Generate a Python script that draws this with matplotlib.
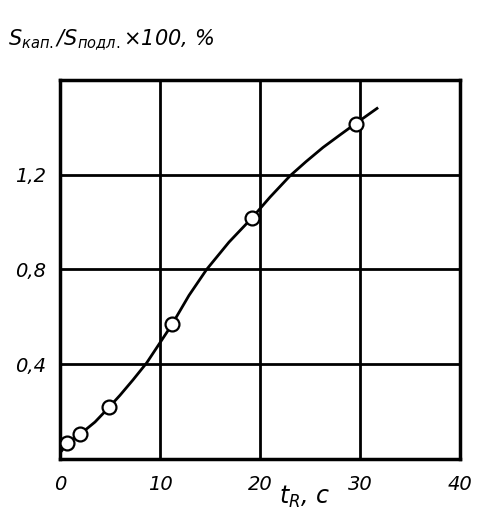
import matplotlib.pyplot as plt
import numpy as np

# measured points (t_R, s ; S_cap/S_subst x 100, %)
t_pts = [0.7, 2.0, 4.9, 11.2, 19.2, 29.6]
s_pts = [0.066, 0.103, 0.217, 0.568, 1.016, 1.414]

# hand-drawn smooth curve
t_curve = [0.2, 0.7, 2.0, 3.5, 4.9, 6.0, 7.3, 8.67, 10.0, 11.17, 12.9, 14.67,
           16.9, 19.17, 21.0, 23.0, 24.6, 26.3, 28.0, 29.5, 31.7]
s_curve = [0.035, 0.066, 0.103, 0.155, 0.217, 0.268, 0.333, 0.405, 0.49,
           0.565, 0.69, 0.80, 0.915, 1.016, 1.105, 1.195, 1.255, 1.315, 1.368,
           1.414, 1.48]

x_ticks = [0, 10, 20, 30, 40]
y_ticks = [0.4, 0.8, 1.2]
y_labels = ["0,4", "0,8", "1,2"]

fig = plt.figure(figsize=(4.86, 5.09), dpi=100)
ax = fig.add_axes([60 / 486, 1 - 458.7 / 509, 400 / 486, 378.7 / 509])

ax.plot(t_curve, s_curve, color="black", lw=2.0, zorder=3,
        solid_joinstyle="round")
ax.plot(t_pts, s_pts, "o", ms=10, mfc="white", mec="black", mew=1.6, zorder=4)

ax.set_xlim(0, 40)
ax.set_ylim(0, 1.6)
ax.set_xticks(x_ticks)
ax.set_yticks(y_ticks)
ax.set_xticklabels([str(v) for v in x_ticks], fontsize=14, style="italic",
                   family="DejaVu Sans")
ax.set_yticklabels(y_labels, fontsize=14, style="italic", family="DejaVu Sans")
ax.tick_params(axis="x", length=0, pad=12)
ax.tick_params(axis="y", length=0, pad=10)
ax.grid(True, color="black", lw=2.0)
ax.set_axisbelow(True)
for sp in ax.spines.values():
    sp.set_linewidth(2.5)

fig.text(8 / 486, 1 - 40 / 509,
         "S$_{\\mathit{кап.}}$/S$_{\\mathit{подл.}}$×100, %",
         fontsize=15, style="italic", va="center", ha="left")
fig.text(305 / 486, 1 - 497 / 509, "$t_R$, с", fontsize=17, style="italic",
         va="center", ha="center")

fig.savefig("out.png", dpi=100)
